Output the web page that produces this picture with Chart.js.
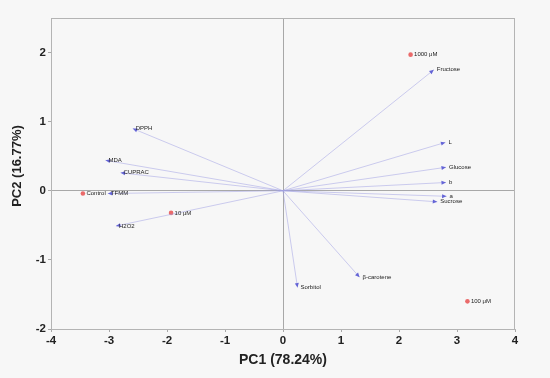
<!DOCTYPE html>
<html>
<head>
<meta charset="utf-8">
<script src="https://cdn.jsdelivr.net/npm/chart.js@4.4.1/dist/chart.umd.min.js"></script>
<style>
  html, body { margin: 0; padding: 0; background: #f7f7f7; }
  #wrap { width: 550px; height: 378px; }
</style>
</head>
<body>
<div id="wrap"><canvas id="pca"></canvas></div>
<script>
// Samples (scores)
const sampleNames = ['Control', '10 μM', '100 μM', '1000 μM'];
const sampleX = [-3.45, -1.93, 3.18, 2.20];
const sampleY = [-0.04, -0.32, -1.60, 1.97];

// Variables (loadings, arrow tips)
const varNames = ['DPPH', 'MDA', 'CUPRAC', 'TFMM', 'H2O2', 'Fructose', 'L', 'Glucose', 'b', 'a', 'Sucrose', 'β-carotene', 'Sorbitol'];
const varX = [-2.59, -3.06, -2.80, -3.02, -2.88, 2.60, 2.80, 2.81, 2.81, 2.82, 2.66, 1.32, 0.25];
const varY = [0.90, 0.44, 0.26, -0.04, -0.51, 1.75, 0.70, 0.34, 0.12, -0.08, -0.16, -1.25, -1.40];

const xTicks = [-4, -3, -2, -1, 0, 1, 2, 3, 4];
const yTicks = [-2, -1, 0, 1, 2];

const fontFam = '"Liberation Sans", Arial, Helvetica, sans-serif';

// Arrow lines from origin
const arrowSets = varNames.map((name, i) => ({
    label: name,
    data: [{x: 0, y: 0}, {x: varX[i], y: varY[i]}],
    showLine: true,
    borderColor: 'rgba(160, 160, 228, 0.65)',
    borderWidth: 0.8,
    pointRadius: 0
}));

const sampleSet = {
    label: 'samples',
    data: sampleNames.map((n, i) => ({x: sampleX[i], y: sampleY[i]})),
    pointStyle: 'circle',
    pointRadius: 2.3,
    backgroundColor: '#ea6a6a',
    borderColor: '#ea6a6a',
    borderWidth: 0
};

// Background, frame, arrowheads, labels and y title
const pcaPlugin = {
    id: 'pcaPlugin',
    beforeDraw(chart) {
        const ctx = chart.ctx;
        ctx.save();
        ctx.fillStyle = '#f7f7f7';
        ctx.fillRect(0, 0, chart.width, chart.height);
        ctx.restore();
    },
    afterDatasetsDraw(chart) {
        const ctx = chart.ctx;
        const xs = chart.scales.x, ys = chart.scales.y;
        const a = chart.chartArea;
        ctx.save();
        // frame
        ctx.strokeStyle = '#b4b4b4';
        ctx.lineWidth = 1;
        ctx.strokeRect(a.left + 0.5, a.top + 0.5, a.right - a.left - 1, a.bottom - a.top);

        ctx.font = '6px ' + fontFam;
        ctx.textBaseline = 'middle';

        // arrowheads + variable labels
        const ox = xs.getPixelForValue(0), oy = ys.getPixelForValue(0);
        varNames.forEach((name, i) => {
            const px = xs.getPixelForValue(varX[i]), py = ys.getPixelForValue(varY[i]);
            const ang = Math.atan2(py - oy, px - ox);
            ctx.save();
            ctx.translate(px, py);
            ctx.rotate(ang);
            ctx.beginPath();
            ctx.moveTo(0, 0);
            ctx.lineTo(-4.5, -2);
            ctx.lineTo(-4.5, 2);
            ctx.closePath();
            ctx.fillStyle = '#6464d6';
            ctx.fill();
            ctx.restore();
            ctx.fillStyle = '#222';
            ctx.fillText(name, px + 3, py);
        });

        // sample labels
        ctx.fillStyle = '#222';
        sampleNames.forEach((name, i) => {
            const px = xs.getPixelForValue(sampleX[i]), py = ys.getPixelForValue(sampleY[i]);
            ctx.fillText(name, px + 3.5, py);
        });

        // y axis title
        ctx.translate(17, 166);
        ctx.rotate(-Math.PI / 2);
        ctx.textAlign = 'center';
        ctx.font = 'bold 13px ' + fontFam;
        ctx.fillText('PC2 (16.77%)', 0, 0);
        ctx.restore();
    }
};

const zeroColor = c => (c.tick && c.tick.value === 0) ? '#a8a8a8' : 'rgba(0,0,0,0)';

new Chart(document.getElementById('pca'), {
    type: 'scatter',
    data: { datasets: [...arrowSets, sampleSet] },
    options: {
        responsive: true,
        maintainAspectRatio: false,
        animation: false,
        layout: { padding: { top: 18, right: 35, left: 0, bottom: 0 } },
        plugins: {
            legend: { display: false },
            tooltip: { enabled: false }
        },
        scales: {
            x: {
                type: 'linear',
                min: -4, max: 4,
                afterBuildTicks: s => { s.ticks = xTicks.map(v => ({value: v})); },
                afterFit: s => { s.height = 49; },
                grid: { color: zeroColor, tickColor: '#a8a8a8', tickLength: 3, lineWidth: 1 },
                border: { color: '#b4b4b4' },
                ticks: { color: '#222', padding: 2, font: { family: fontFam, size: 11.5, weight: 'bold' } },
                title: {
                    display: true, text: 'PC1 (78.24%)', color: '#222',
                    padding: { top: 0, bottom: 9 },
                    font: { family: fontFam, size: 14, weight: 'bold' }
                }
            },
            y: {
                type: 'linear',
                min: -2, max: 2.5,
                afterBuildTicks: s => { s.ticks = yTicks.map(v => ({value: v})); },
                afterFit: s => { s.width = 51; },
                grid: { color: zeroColor, tickColor: '#a8a8a8', tickLength: 3, lineWidth: 1 },
                border: { color: '#b4b4b4' },
                ticks: { color: '#222', padding: 2, font: { family: fontFam, size: 11.5, weight: 'bold' } },
                title: { display: false }
            }
        }
    },
    plugins: [pcaPlugin]
});
</script>
</body>
</html>
